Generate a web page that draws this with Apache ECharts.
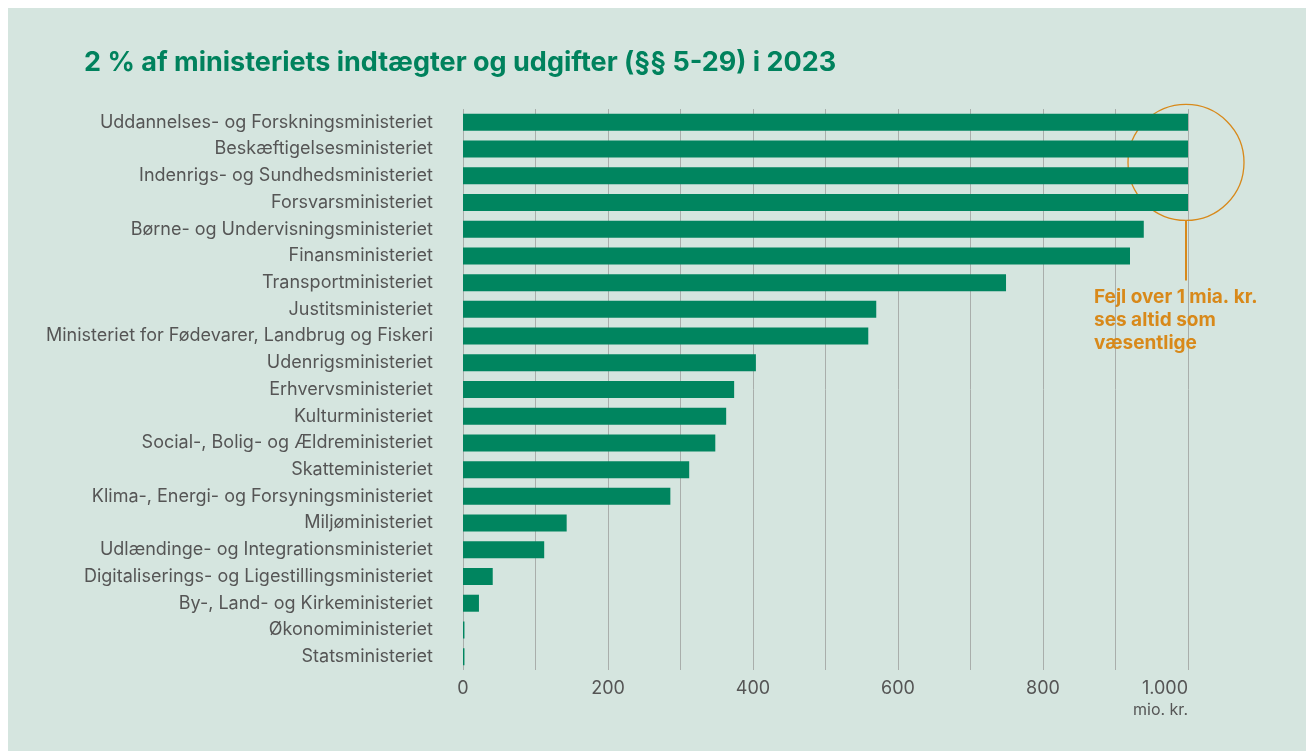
<!DOCTYPE html>
<html><head><meta charset="utf-8">
<script src="https://cdn.jsdelivr.net/npm/echarts@6/dist/echarts.min.js"></script>
<style>html,body{margin:0;padding:0;background:#fff;}#c{position:absolute;left:8px;top:8px;width:1298px;height:743px;background:#d5e5df;}</style>
</head><body><div id="c"></div>
<script>
const categories = [
"Uddannelses- og Forskningsministeriet","Beskæftigelsesministeriet","Indenrigs- og Sundhedsministeriet","Forsvarsministeriet","Børne- og Undervisningsministeriet","Finansministeriet","Transportministeriet","Justitsministeriet","Ministeriet for Fødevarer, Landbrug og Fiskeri","Udenrigsministeriet","Erhvervsministeriet","Kulturministeriet","Social-, Bolig- og Ældreministeriet","Skatteministeriet","Klima-, Energi- og Forsyningsministeriet","Miljøministeriet","Udlændinge- og Integrationsministeriet","Digitaliserings- og Ligestillingsministeriet","By-, Land- og Kirkeministeriet","Økonomiministeriet","Statsministeriet"];
const values = [1000,1000,1000,1000,939,920,749,570,559,404,374,363,348,312,286,143,112,41,22,2,2];
const tickLabels = {0:"0",200:"200",400:"400",600:"600",800:"800",1000:"1.000"};
const title = "2 % af ministeriets indtægter og udgifter (§§ 5-29) i 2023";
const unitLabel = "mio. kr.";
const noteLines = ["Fejl over 1 mia. kr.","ses altid som","væsentlige"];

const FONT = "Inter";
const H = 743;
const chart = echarts.init(document.getElementById('c'));
const option = {
  backgroundColor: '#d5e5df',
  animation: false,
  title: {text: title, left: 76, top: 41, padding: 0, textStyle:{fontFamily:FONT, fontWeight:'bold', fontSize:27, color:'#00825d'}},
  grid: {left: 455, right: 118, top: 101, bottom: 81, containLabel:false},
  xAxis: {type:'value', min:0, max:1000, interval:100,
    axisLine:{show:false}, axisTick:{show:false},
    splitLine:{show:true, lineStyle:{color:'#a9aeab', width:1}},
    axisLabel:{margin:10, fontFamily:FONT, fontSize:18, color:'#555', alignMaxLabel:'right',
      formatter: v => tickLabels[v] !== undefined ? tickLabels[v] : ''}},
  yAxis: {type:'category', data: categories, inverse:true,
    axisLine:{show:false}, axisTick:{show:false},
    axisLabel:{margin:30, fontFamily:FONT, fontSize:18, color:'#555'}},
  series: [{type:'bar', data: values, barWidth:17, itemStyle:{color:'#00855f'}, silent:true}]
};
chart.setOption(option);
const p1000 = chart.convertToPixel({xAxisIndex:0, yAxisIndex:0}, [1000, categories[0]]);
const p1000b = chart.convertToPixel({xAxisIndex:0, yAxisIndex:0}, [1000, categories[3]]);
const gridBottom = H - 81;
const cy = (p1000[1] + p1000b[1]) / 2;
const cx = p1000[0] - 2;
chart.setOption({graphic: [
  {type:'text', style:{text: unitLabel, x: p1000[0], y: gridBottom + 40, align:'right', verticalAlign:'middle', font:'16px '+FONT, fill:'#555'}},
  {type:'circle', shape:{cx:cx, cy:cy, r:58}, style:{fill:'none', stroke:'#d8891a', lineWidth:1.3}},
  {type:'line', shape:{x1:cx, y1:cy+58, x2:cx, y2:cy+118}, style:{stroke:'#d8891a', lineWidth:2}},
  {type:'text', style:{text: noteLines.join('\n'), x: p1000[0]-94, y: cy+123, font:'bold 19px '+FONT, lineHeight:23, fill:'#d8891a'}}
]});
</script></body></html>
